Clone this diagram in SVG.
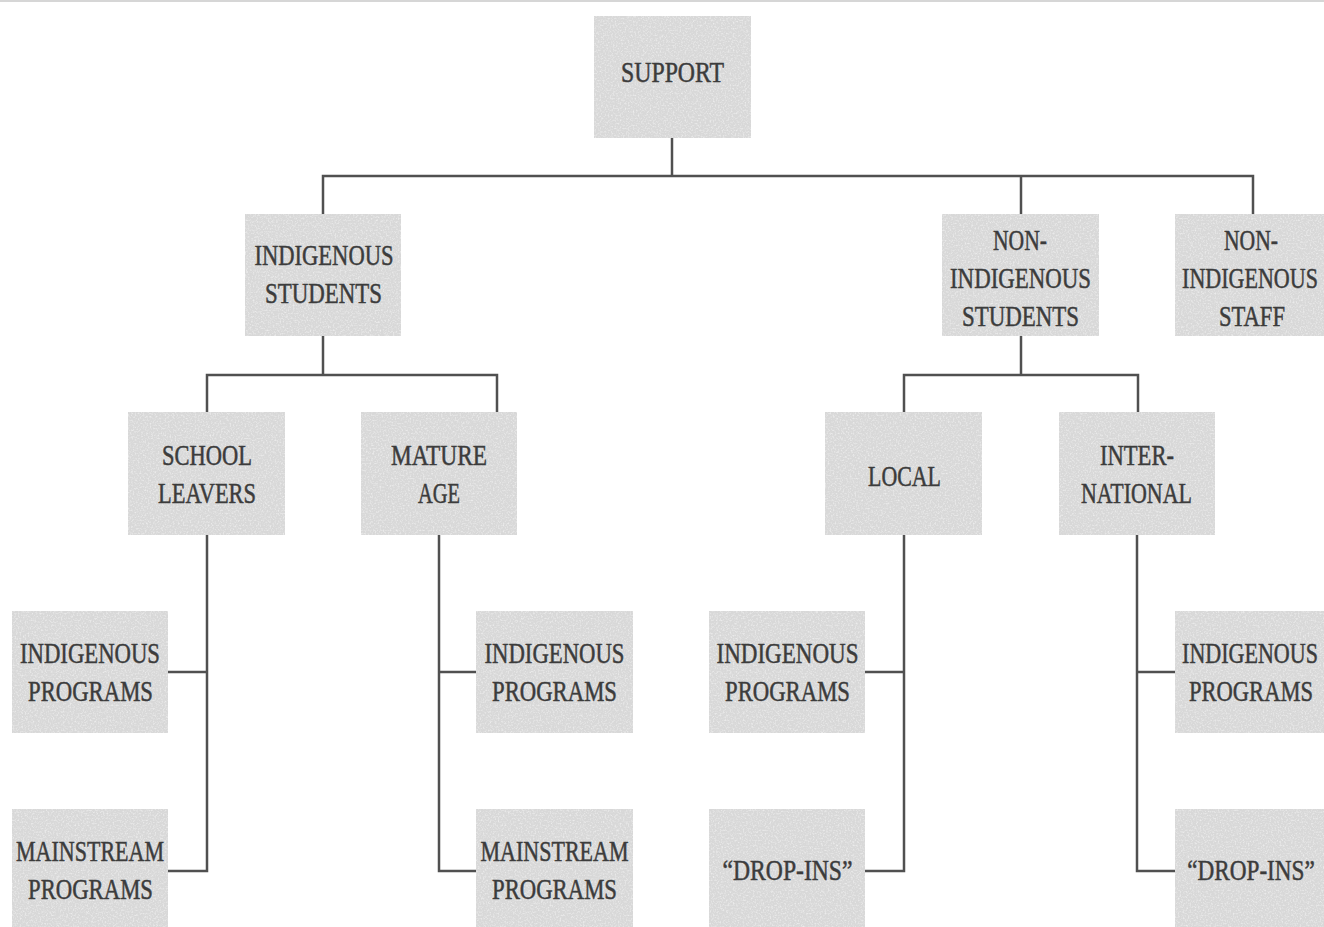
<svg xmlns="http://www.w3.org/2000/svg" width="1324" height="927" viewBox="0 0 1324 927">
<style>
.box{fill:#d8d8d8}
.t{font-family:"Liberation Serif","Times New Roman","DejaVu Serif",serif;font-size:29px;fill:#3c3c3c;stroke:#3c3c3c;stroke-width:0.5;text-anchor:middle}
.c{fill:none;stroke:#505050;stroke-width:2.5}
</style>
<defs>
<filter id="tex" x="0" y="0" width="1" height="1">
<feTurbulence type="fractalNoise" baseFrequency="0.6" numOctaves="2" seed="3" result="n"/>
<feColorMatrix in="n" type="matrix" values="0 0 0 0 1  0 0 0 0 1  0 0 0 0 1  0 0 0 1.2 -0.55" result="w"/>
<feComposite in="w" in2="SourceGraphic" operator="in" result="wc"/>
<feMerge><feMergeNode in="SourceGraphic"/><feMergeNode in="wc"/></feMerge>
</filter>
</defs>
<rect width="1324" height="927" fill="#ffffff"/>
<line x1="0" y1="1" x2="1324" y2="1" stroke="#c8c8c8" stroke-width="1.5"/>
<g id="connectors" class="c">
<polyline points="672,138 672,176"/>
<polyline points="323,214 323,176 1253,176 1253,214"/>
<polyline points="1021,176 1021,214"/>
<polyline points="323,336 323,375"/>
<polyline points="207,412 207,375 497,375 497,412"/>
<polyline points="1021,336 1021,375"/>
<polyline points="904,412 904,375 1138,375 1138,412"/>
<polyline points="207,535 207,871 168,871"/>
<polyline points="168,672 207,672"/>
<polyline points="439,535 439,871 476,871"/>
<polyline points="439,672 476,672"/>
<polyline points="904,535 904,871 865,871"/>
<polyline points="865,672 904,672"/>
<polyline points="1137,535 1137,871 1175,871"/>
<polyline points="1137,672 1175,672"/>
</g>
<g id="support"><rect class="box" filter="url(#tex)" x="594" y="16" width="157" height="122"/><text class="t" x="672.5" y="82" textLength="103" lengthAdjust="spacingAndGlyphs">SUPPORT</text></g>
<g id="indigenous-students"><rect class="box" filter="url(#tex)" x="245" y="214" width="156" height="122"/><text class="t" x="324" y="265" textLength="139" lengthAdjust="spacingAndGlyphs">INDIGENOUS</text><text class="t" x="323.5" y="303" textLength="117" lengthAdjust="spacingAndGlyphs">STUDENTS</text></g>
<g id="non-indigenous-students"><rect class="box" filter="url(#tex)" x="942" y="214" width="157" height="122"/><text class="t" x="1020" y="250" textLength="54" lengthAdjust="spacingAndGlyphs">NON-</text><text class="t" x="1020.5" y="288" textLength="141" lengthAdjust="spacingAndGlyphs">INDIGENOUS</text><text class="t" x="1020.5" y="326" textLength="117" lengthAdjust="spacingAndGlyphs">STUDENTS</text></g>
<g id="non-indigenous-staff"><rect class="box" filter="url(#tex)" x="1175" y="214" width="149" height="122"/><text class="t" x="1251" y="250" textLength="54" lengthAdjust="spacingAndGlyphs">NON-</text><text class="t" transform="translate(1250,288) scale(0.76,1)" x="0" y="0">INDIGENOUS</text><text class="t" x="1252" y="326" textLength="66" lengthAdjust="spacingAndGlyphs">STAFF</text></g>
<g id="school-leavers"><rect class="box" filter="url(#tex)" x="128" y="412" width="157" height="123"/><text class="t" x="207" y="465" textLength="90" lengthAdjust="spacingAndGlyphs">SCHOOL</text><text class="t" x="207" y="503" textLength="98" lengthAdjust="spacingAndGlyphs">LEAVERS</text></g>
<g id="mature-age"><rect class="box" filter="url(#tex)" x="361" y="412" width="156" height="123"/><text class="t" x="439" y="465" textLength="96" lengthAdjust="spacingAndGlyphs">MATURE</text><text class="t" x="439" y="503" textLength="42" lengthAdjust="spacingAndGlyphs">AGE</text></g>
<g id="local"><rect class="box" filter="url(#tex)" x="825" y="412" width="157" height="123"/><text class="t" x="904.5" y="486" textLength="73" lengthAdjust="spacingAndGlyphs">LOCAL</text></g>
<g id="international"><rect class="box" filter="url(#tex)" x="1059" y="412" width="156" height="123"/><text class="t" x="1137" y="465" textLength="74" lengthAdjust="spacingAndGlyphs">INTER-</text><text class="t" x="1136.5" y="503" textLength="111" lengthAdjust="spacingAndGlyphs">NATIONAL</text></g>
<g id="sl-indigenous-programs"><rect class="box" filter="url(#tex)" x="12" y="611" width="156" height="122"/><text class="t" x="90" y="663" textLength="140" lengthAdjust="spacingAndGlyphs">INDIGENOUS</text><text class="t" x="90.5" y="701" textLength="125" lengthAdjust="spacingAndGlyphs">PROGRAMS</text></g>
<g id="sl-mainstream-programs"><rect class="box" filter="url(#tex)" x="12" y="809" width="156" height="118"/><text class="t" x="90" y="861" textLength="148" lengthAdjust="spacingAndGlyphs">MAINSTREAM</text><text class="t" x="90.5" y="899" textLength="125" lengthAdjust="spacingAndGlyphs">PROGRAMS</text></g>
<g id="ma-indigenous-programs"><rect class="box" filter="url(#tex)" x="476" y="611" width="157" height="122"/><text class="t" x="554.5" y="663" textLength="140" lengthAdjust="spacingAndGlyphs">INDIGENOUS</text><text class="t" x="554.5" y="701" textLength="125" lengthAdjust="spacingAndGlyphs">PROGRAMS</text></g>
<g id="ma-mainstream-programs"><rect class="box" filter="url(#tex)" x="476" y="809" width="157" height="118"/><text class="t" x="554.5" y="861" textLength="148" lengthAdjust="spacingAndGlyphs">MAINSTREAM</text><text class="t" x="554.5" y="899" textLength="125" lengthAdjust="spacingAndGlyphs">PROGRAMS</text></g>
<g id="lo-indigenous-programs"><rect class="box" filter="url(#tex)" x="709" y="611" width="156" height="122"/><text class="t" x="787.5" y="663" textLength="142" lengthAdjust="spacingAndGlyphs">INDIGENOUS</text><text class="t" x="787.5" y="701" textLength="125" lengthAdjust="spacingAndGlyphs">PROGRAMS</text></g>
<g id="lo-drop-ins"><rect class="box" filter="url(#tex)" x="709" y="809" width="156" height="118"/><text class="t" x="787.5" y="880" textLength="130" lengthAdjust="spacingAndGlyphs">“DROP-INS”</text></g>
<g id="in-indigenous-programs"><rect class="box" filter="url(#tex)" x="1175" y="611" width="149" height="122"/><text class="t" transform="translate(1250,663) scale(0.76,1)" x="0" y="0">INDIGENOUS</text><text class="t" transform="translate(1251,701) scale(0.777,1)" x="0" y="0">PROGRAMS</text></g>
<g id="in-drop-ins"><rect class="box" filter="url(#tex)" x="1175" y="809" width="149" height="118"/><text class="t" transform="translate(1251,880) scale(0.8,1)" x="0" y="0">“DROP-INS”</text></g>
</svg>
